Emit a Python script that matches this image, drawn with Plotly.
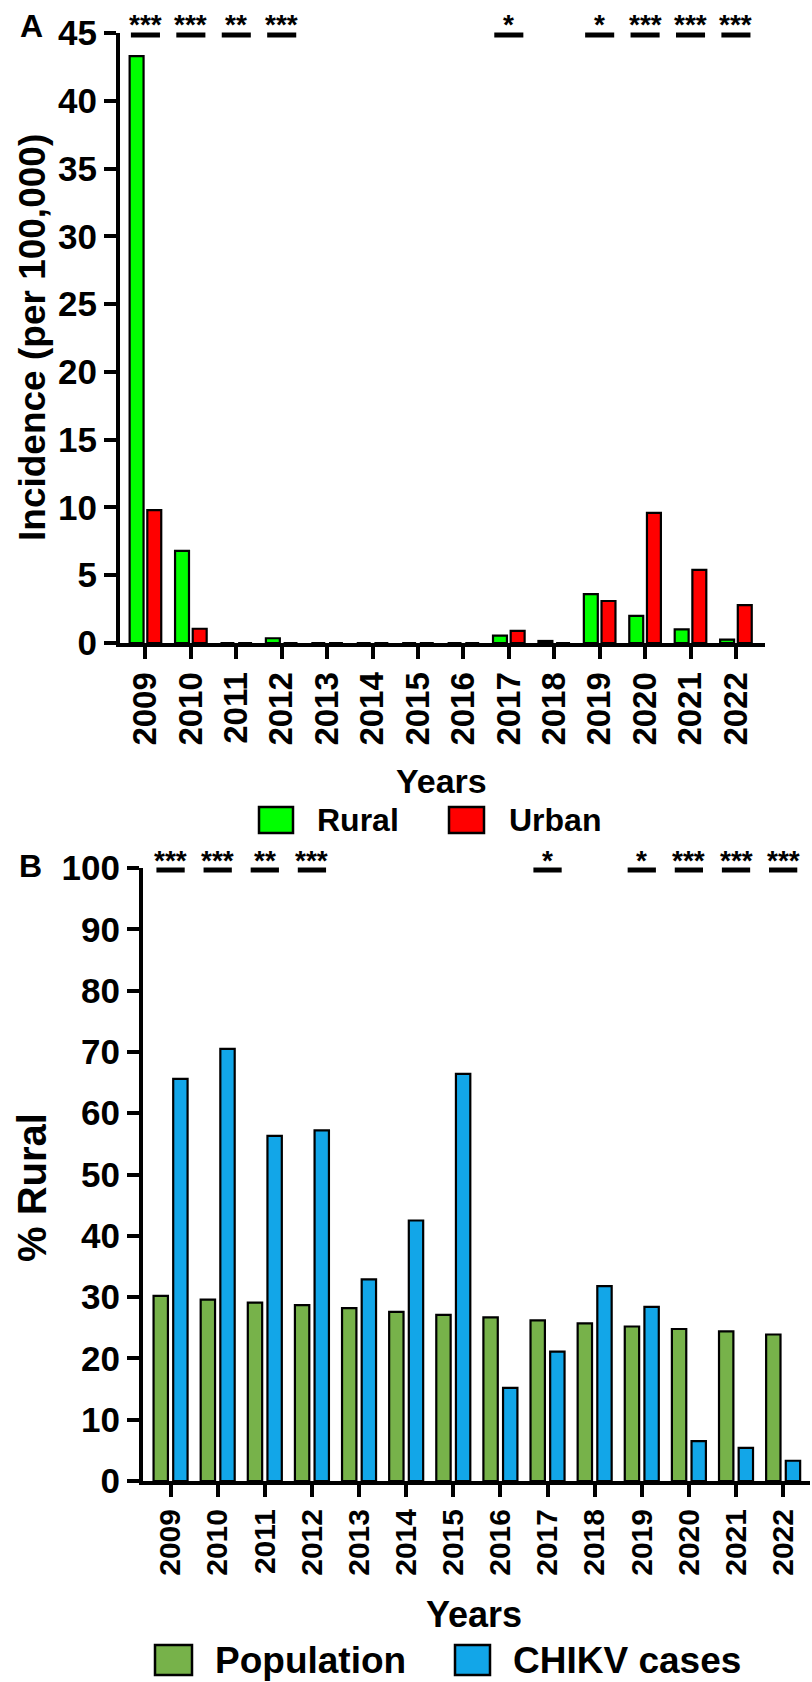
import plotly.graph_objects as go

years = ["2009", "2010", "2011", "2012", "2013", "2014", "2015",
         "2016", "2017", "2018", "2019", "2020", "2021", "2022"]

# Panel A: incidence per 100,000
rural_incidence = [43.3, 6.8, 0.0, 0.35, 0.0, 0.0, 0.0, 0.0, 0.55, 0.15, 3.6, 2.0, 1.0, 0.25]
urban_incidence = [9.8, 1.05, 0.0, 0.0, 0.0, 0.0, 0.0, 0.0, 0.9, 0.0, 3.1, 9.6, 5.4, 2.8]

# Panel B: % rural
population_pct = [30.2, 29.6, 29.1, 28.7, 28.2, 27.6, 27.1, 26.7, 26.2, 25.7, 25.2, 24.8, 24.4, 23.9]
chikv_pct = [65.6, 70.5, 56.3, 57.2, 32.9, 42.5, 66.4, 15.2, 21.1, 31.8, 28.4, 6.5, 5.4, 3.3]

# significance labels (same in both panels)
sig_years = ["2009", "2010", "2011", "2012", "2017", "2019", "2020", "2021", "2022"]
sig_labels = ["***", "***", "**", "***", "*", "*", "***", "***", "***"]

W, H = 812, 1682
FONT = "Liberation Sans, Arial, sans-serif"


def px(x):
    return x / W


def py(y):
    return 1 - y / H


fig = go.Figure()

A_W, A_OFF = 0.307, 0.348
B_W, B_OFF = 0.305, 0.361

fig.add_trace(go.Bar(x=years, y=rural_incidence, name="Rural", width=A_W, offset=-A_OFF,
                     marker=dict(color="#00FF00", line=dict(color="black", width=2.2)),
                     xaxis="x", yaxis="y"))
fig.add_trace(go.Bar(x=years, y=urban_incidence, name="Urban", width=A_W, offset=A_OFF - A_W,
                     marker=dict(color="#FF0000", line=dict(color="black", width=2.2)),
                     xaxis="x", yaxis="y"))
fig.add_trace(go.Bar(x=years, y=population_pct, name="Population", width=B_W, offset=-B_OFF,
                     marker=dict(color="#77B24A", line=dict(color="black", width=2.2)),
                     xaxis="x2", yaxis="y2"))
fig.add_trace(go.Bar(x=years, y=chikv_pct, name="CHIKV cases", width=B_W, offset=B_OFF - B_W,
                     marker=dict(color="#12A6E8", line=dict(color="black", width=2.2)),
                     xaxis="x2", yaxis="y2"))


def axis_style(size):
    return dict(showline=True, linecolor="black", linewidth=4, ticks="outside",
                ticklen=12, tickwidth=4, tickcolor="black", showgrid=False,
                zeroline=False, automargin=False,
                tickfont=dict(family=FONT, size=size, color="black", weight=700))


fig.update_layout(
    template="none",
    width=W, height=H,
    margin=dict(l=0, r=0, t=0, b=0, autoexpand=False),
    paper_bgcolor="white", plot_bgcolor="white",
    showlegend=False, barmode="overlay",
    xaxis=dict(domain=[px(120), px(765)], anchor="y", type="category",
               range=[-0.56, 13.64], tickangle=-90, **axis_style(33)),
    yaxis=dict(domain=[py(643), py(33)], anchor="x", range=[0, 45],
               tickvals=[0, 5, 10, 15, 20, 25, 30, 35, 40, 45], **axis_style(35)),
    xaxis2=dict(domain=[px(143), px(810)], anchor="y2", type="category",
                range=[-0.585, 13.57], tickangle=-90, **axis_style(30)),
    yaxis2=dict(domain=[py(1481), py(868)], anchor="x2", range=[0, 100],
                tickvals=list(range(0, 101, 10)), **axis_style(35)),
)

annotations = []
shapes = []

# significance bars and stars
for xa, y_line, y_star, half in [("x", 35, 25, 0.32), ("x2", 870, 860, 0.30)]:
    for yr, lab in zip(sig_years, sig_labels):
        i = years.index(yr)
        shapes.append(dict(type="line", xref=xa, yref="paper", x0=i - half, x1=i + half,
                           y0=py(y_line), y1=py(y_line), line=dict(color="black", width=5)))
        annotations.append(dict(text=lab, xref=xa, yref="paper", x=i, y=py(y_star),
                                showarrow=False, xanchor="center", yanchor="middle",
                                font=dict(family=FONT, size=28, color="black", weight=700)))

# panel letters
annotations.append(dict(text="A", xref="paper", yref="paper", x=px(31), y=py(26),
                        showarrow=False, xanchor="center", yanchor="middle",
                        font=dict(family=FONT, size=32, color="black", weight=700)))
annotations.append(dict(text="B", xref="paper", yref="paper", x=px(30), y=py(866),
                        showarrow=False, xanchor="center", yanchor="middle",
                        font=dict(family=FONT, size=32, color="black", weight=700)))

# y-axis titles
annotations.append(dict(text="Incidence (per 100,000)", xref="paper", yref="paper",
                        x=px(32), y=py(338), showarrow=False, textangle=-90,
                        xanchor="center", yanchor="middle",
                        font=dict(family=FONT, size=37, color="black", weight=700)))
annotations.append(dict(text="% Rural", xref="paper", yref="paper",
                        x=px(32), y=py(1188), showarrow=False, textangle=-90,
                        xanchor="center", yanchor="middle",
                        font=dict(family=FONT, size=40, color="black", weight=700)))

# x-axis titles
annotations.append(dict(text="Years", xref="paper", yref="paper", x=px(442), y=py(781),
                        showarrow=False, xanchor="center", yanchor="middle",
                        font=dict(family=FONT, size=34, color="black", weight=700)))
annotations.append(dict(text="Years", xref="paper", yref="paper", x=px(474), y=py(1614),
                        showarrow=False, xanchor="center", yanchor="middle",
                        font=dict(family=FONT, size=36, color="black", weight=700)))

# legends (manual)
legend_items = [
    ("Rural", "#00FF00", 259, 293, 807, 833, 315, 820, 32),
    ("Urban", "#FF0000", 449, 484, 807, 833, 507, 820, 32),
    ("Population", "#77B24A", 155, 192, 1645, 1675, 213, 1660, 37),
    ("CHIKV cases", "#12A6E8", 455, 490, 1645, 1675, 511, 1660, 37),
]
for name, col, x0, x1, y0, y1, tx, ty, fs in legend_items:
    shapes.append(dict(type="rect", xref="paper", yref="paper", x0=px(x0), x1=px(x1),
                       y0=py(y1), y1=py(y0), fillcolor=col,
                       line=dict(color="black", width=2.5)))
    annotations.append(dict(text=name, xref="paper", yref="paper", x=px(tx), y=py(ty),
                            showarrow=False, xanchor="left", yanchor="middle",
                            font=dict(family=FONT, size=fs, color="black", weight=700)))

fig.update_layout(annotations=annotations, shapes=shapes)

fig.write_html(
    "out.html",
    config={"displayModeBar": False, "staticPlot": True},
    post_script="document.body.style.margin='0';document.body.style.padding='0';"
                "document.body.style.overflow='hidden';",
)
